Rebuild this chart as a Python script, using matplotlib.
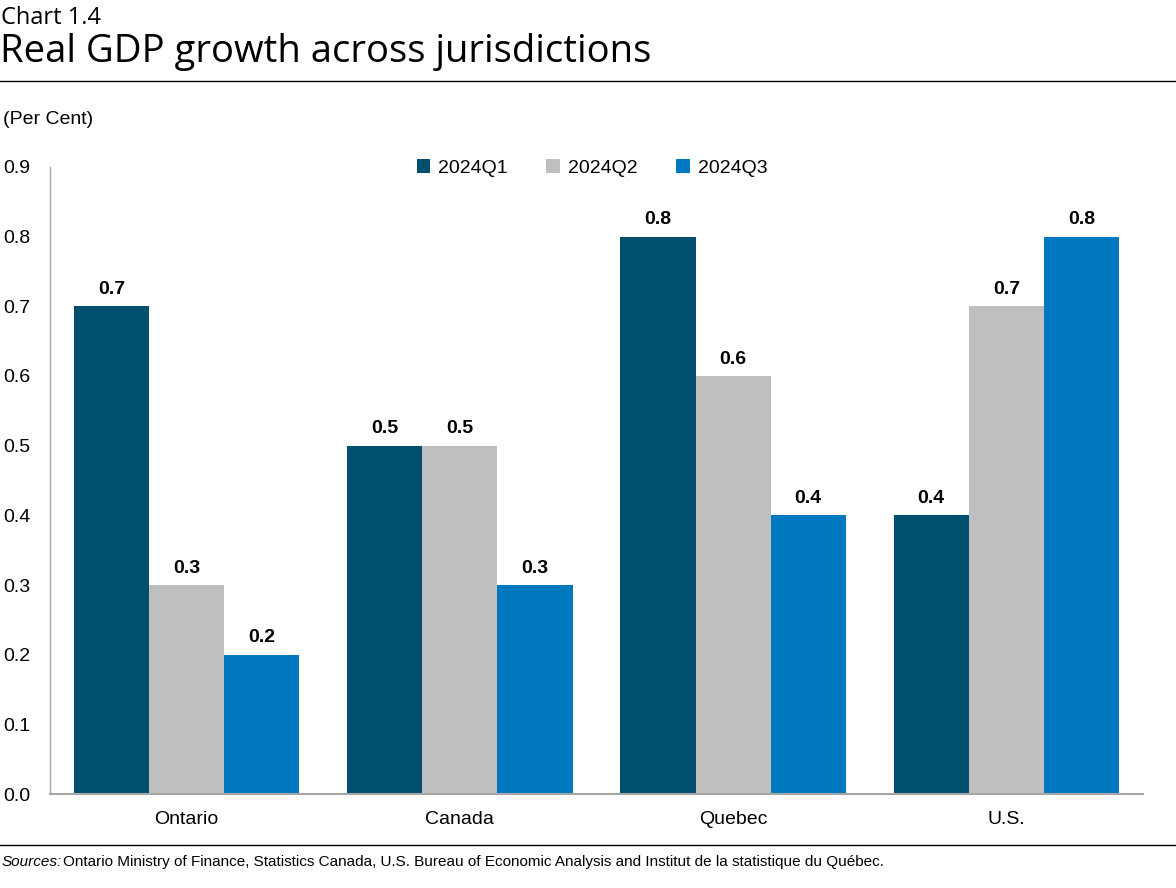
import matplotlib
matplotlib.use("Agg")
import matplotlib.pyplot as plt
from matplotlib.patches import Patch
import numpy as np

categories = ["Ontario", "Canada", "Quebec", "U.S."]
series_names = ["2024Q1", "2024Q2", "2024Q3"]
q1 = [0.7, 0.5, 0.8, 0.4]
q2 = [0.3, 0.5, 0.6, 0.7]
q3 = [0.2, 0.3, 0.4, 0.8]
yticks = [0.0, 0.1, 0.2, 0.3, 0.4, 0.5, 0.6, 0.7, 0.8, 0.9]
colors = ["#004F6E", "#BFBFBF", "#0078BF"]

base = "Liberation Sans"
plt.rcParams['font.family'] = [base, 'DejaVu Sans']

fig = plt.figure(figsize=(11.76, 8.88), dpi=100)
ax = fig.add_axes([50/1176, 1-794/888, (1143-50)/1176, (794-167)/888])

x = np.arange(len(categories))
w = 0.275
for i, (vals, c) in enumerate(zip([q1, q2, q3], colors)):
    bars = ax.bar(x + (i-1)*w, vals, width=w, color=c, edgecolor='none', zorder=2)
    for b, v in zip(bars, vals):
        ax.text(b.get_x()+b.get_width()/2, v+0.012, f"{v:.1f}", ha='center', va='bottom',
                fontsize=14, fontweight='bold')

ax.set_xlim(-0.5, 3.5)
ax.set_ylim(0, 0.9)
ax.set_yticks(yticks)
ax.set_yticklabels([f"{t:.1f}" for t in yticks], fontsize=14)
ax.set_xticks(x)
ax.set_xticklabels(categories, fontsize=14)
ax.tick_params(axis='y', length=0, pad=14)
ax.tick_params(axis='x', length=0, pad=12)
for s in ['top', 'right']:
    ax.spines[s].set_visible(False)
ax.spines['left'].set_color('#A6A6A6')
ax.spines['bottom'].set_color('#A6A6A6')
ax.spines['left'].set_linewidth(1.0)
ax.spines['bottom'].set_linewidth(1.5)

handles = [Patch(facecolor=c, edgecolor='none') for c in colors]
leg = fig.legend(handles, series_names, loc='center', bbox_to_anchor=(592/1176, 1-168/888),
                 ncol=3, frameon=False, fontsize=14, handlelength=0.7, handleheight=0.7,
                 columnspacing=2.0, handletextpad=0.4)

fig.text(1/1176, 1-18/888, "Chart 1.4", fontsize=17, family=['Open Sans', 'DejaVu Sans'], va='center')
fig.text(0/1176, 1-52/888, "Real GDP growth across jurisdictions", fontsize=27.5,
         family=['Open Sans', 'DejaVu Sans'], va='center')
fig.add_artist(plt.Line2D([0, 1], [1-81/888, 1-81/888], color='black', lw=1.0))
fig.text(3/1176, 1-120/888, "(Per Cent)", fontsize=14, va='center')
fig.add_artist(plt.Line2D([0, 1], [1-845/888, 1-845/888], color='black', lw=1.0))
fig.text(2/1176, 1-862/888, "Sources:", fontsize=11, style='italic', va='center')
fig.text(63/1176, 1-862/888,
         "Ontario Ministry of Finance, Statistics Canada, U.S. Bureau of Economic Analysis and Institut de la statistique du Qu\u00e9bec.",
         fontsize=11, va='center')

fig.savefig("out.png", dpi=100)
